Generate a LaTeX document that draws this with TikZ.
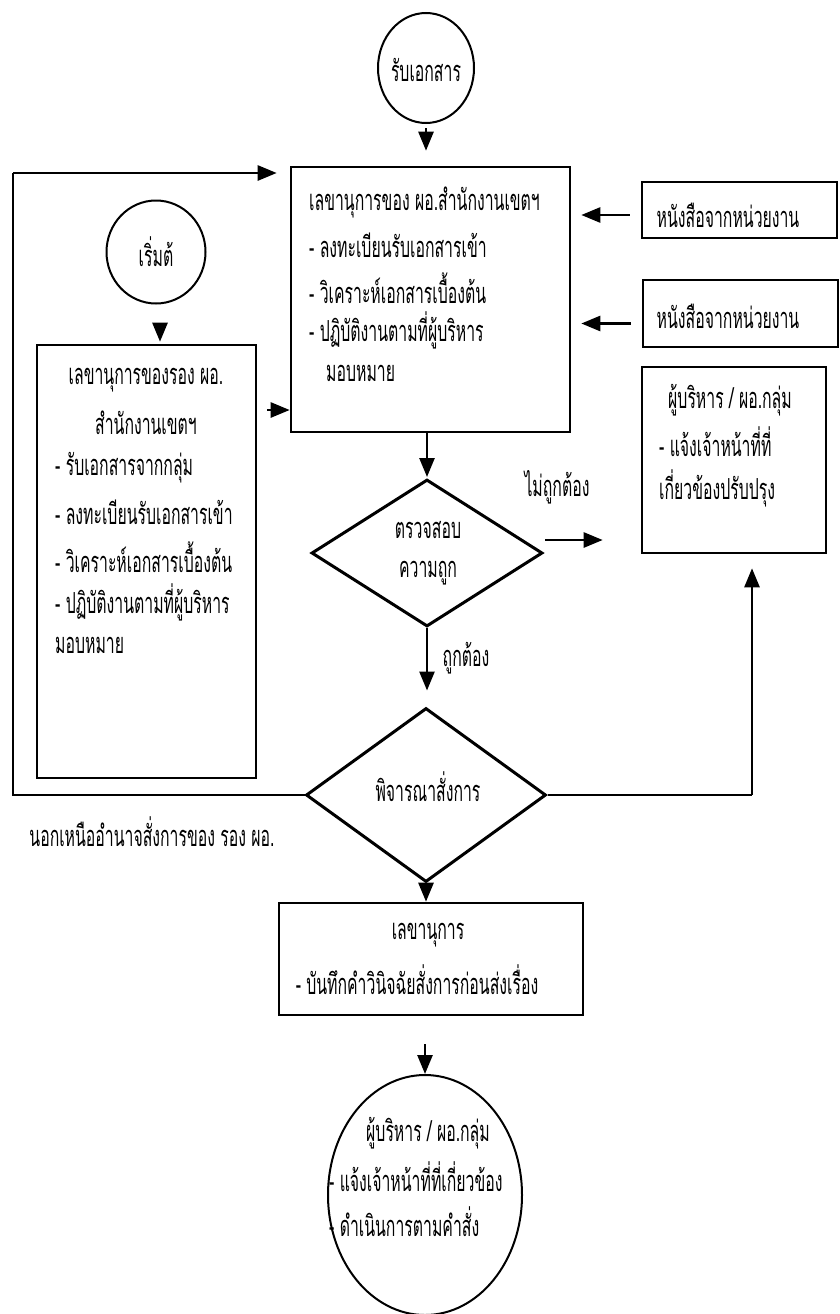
\documentclass[tikz,border=0pt]{standalone}
\usepackage{fontspec}
\newfontfamily\thaifont[Script=Thai,FakeStretch=0.545]{Loma}
\usetikzlibrary{arrows.meta,shapes.geometric}
\tikzset{
  boxst/.style={draw,line width=2.6pt,inner sep=0pt,rectangle},
  ellst/.style={draw,line width=2pt,inner sep=0pt,ellipse},
  diast/.style={draw,line width=3pt,inner sep=0pt,diamond},
  arr/.style={-{Triangle[length=19pt,width=15pt]},line width=2.6pt},
  txt/.style={font=\thaifont\fontsize{29}{31}\selectfont,inner sep=0pt},
  txtw/.style={txt,anchor=west},
  wire/.style={line width=2.8pt}
}
\begin{document}
\begin{tikzpicture}[x=1pt,y=-1pt]
\useasboundingbox (0,0) rectangle (839,1314);
% shapes
\node[ellst,minimum width=96pt,minimum height=110pt] (c1) at (426,68) {};
\node[boxst,minimum width=279pt,minimum height=265pt] (main) at (430.5,299.5) {};
\node[ellst,minimum width=99pt,minimum height=103pt] (c2) at (156,252) {};
\node[boxst,minimum width=219pt,minimum height=433pt] (lb) at (146.5,561.5) {};
\node[boxst,minimum width=195pt,minimum height=56pt] (rb1) at (739.5,210) {};
\node[boxst,minimum width=195pt,minimum height=67pt] (rb2) at (740.5,313.5) {};
\node[boxst,minimum width=184pt,minimum height=186pt] (rb3) at (734,460) {};
\node[diast,minimum width=231pt,minimum height=147pt] (d1) at (427,553) {};
\node[diast,minimum width=240pt,minimum height=174pt] (d2) at (426,795) {};
\node[boxst,minimum width=304pt,minimum height=112pt] (bb) at (431,959) {};
\node[ellst,minimum width=194pt,minimum height=240pt] (ce) at (425,1195) {};
% texts
\node[txt] (t1) at (426,70) {รับเอกสาร};
\node[txt] (t2) at (156,252) {เริ่มต้};
\node[txtw] (m1) at (309,202) {เลขานุการของ ผอ.สำนักงานเขตฯ};
\node[txtw] (m2) at (309,245) {- ลงทะเบียนรับเอกสารเข้า};
\node[txtw] (m3) at (309,288) {- วิเคราะห์เอกสารเบื้องต้น};
\node[txtw] (m4) at (309,330) {- ปฏิบัติงานตามที่ผู้บริหาร};
\node[txtw] (m5) at (326,373) {มอบหมาย};
\node[txt] (l1) at (146,380) {เลขานุการของรอง ผอ.};
\node[txt] (l2) at (146,423) {สำนักงานเขตฯ};
\node[txtw] (l3) at (55,468) {- รับเอกสารจากกลุ่ม};
\node[txtw] (l4) at (55,512) {- ลงทะเบียนรับเอกสารเข้า};
\node[txtw] (l5) at (55,557) {- วิเคราะห์เอกสารเบื้องต้น};
\node[txtw] (l6) at (55,602) {- ปฏิบัติงานตามที่ผู้บริหาร};
\node[txtw] (l7) at (55,645) {มอบหมาย};
\node[txt] (r1) at (728,215) {หนังสือจากหน่วยงาน};
\node[txt] (r2) at (728,316) {หนังสือจากหน่วยงาน};
\node[txtw] (r3) at (668,400) {ผู้บริหาร / ผอ.กลุ่ม};
\node[txtw] (r4) at (659,442) {- แจ้งเจ้าหน้าที่ที่};
\node[txtw] (r5) at (659,488) {เกี่ยวข้องปรับปรุง};
\node[txt] (d1a) at (428,530) {ตรวจสอบ};
\node[txt] (d1b) at (428,573) {ความถูก};
\node[txt] (no) at (557,487) {ไม่ถูกต้อง};
\node[txt] (yes) at (466,658) {ถูกต้อง};
\node[txt] (d2a) at (428,787) {พิจารณาสั่งการ};
\node[txt] (out) at (152,832) {นอกเหนืออำนาจสั่งการของ รอง ผอ.};
\node[txt] (b1) at (428,935) {เลขานุการ};
\node[txt] (b2) at (417,980) {- บันทึกคำวินิจฉัยสั่งการก่อนส่งเรื่อง};
\node[txtw] (e1) at (366,1133) {ผู้บริหาร / ผอ.กลุ่ม};
\node[txtw] (e2) at (329,1177) {- แจ้งเจ้าหน้าที่ที่เกี่ยวข้อง};
\node[txtw] (e3) at (329,1222) {- ดำเนินการตามคำสั่ง};
% connectors
\draw[arr,shorten <=4pt,shorten >=15pt] (c1.south) -- (c1.south |- main.north);
\draw[arr,shorten <=19pt,shorten >=2pt] ([xshift=4pt]c2.south) -- ([xshift=4pt]c2.south |- lb.north);
\coordinate (loopA) at (13,173);
\draw[wire] (d2.west) -| (loopA);
\draw[arr,shorten >=13pt] (loopA) -- (loopA -| main.west);
\coordinate (la) at (256,410);
\draw[arr,shorten <=11pt] (la) -- (la -| main.west);
\draw[arr,shorten <=11pt,shorten >=10pt] ([yshift=-5pt]rb1.west) -- ([yshift=-5pt]rb1.west -| main.east);
\draw[arr,shorten <=11pt,shorten >=10pt] ([yshift=-10pt]rb2.west) -- ([yshift=-10pt]rb2.west -| main.east);
\draw[arr,shorten >=1pt] (main.south -| d1.north) -- (d1.north);
\draw[arr,shorten <=1pt,shorten >=38pt] ([yshift=13pt]d1.east) -- ([yshift=13pt]d1.east -| rb3.west);
\draw[arr,shorten >=16pt] (d1.south) -- (d1.south |- d2.north);
\draw[wire] (d2.east) -- ([xshift=18pt]rb3.south |- d2.east);
\draw[arr,shorten >=14pt] ([xshift=18pt]rb3.south |- d2.east) -- ([xshift=18pt]rb3.south);
\draw[arr] (d2.south) -- (d2.south |- bb.north);
\draw[arr,shorten <=28pt] (bb.south -| ce.north) -- (ce.north);
\end{tikzpicture}
\end{document}
